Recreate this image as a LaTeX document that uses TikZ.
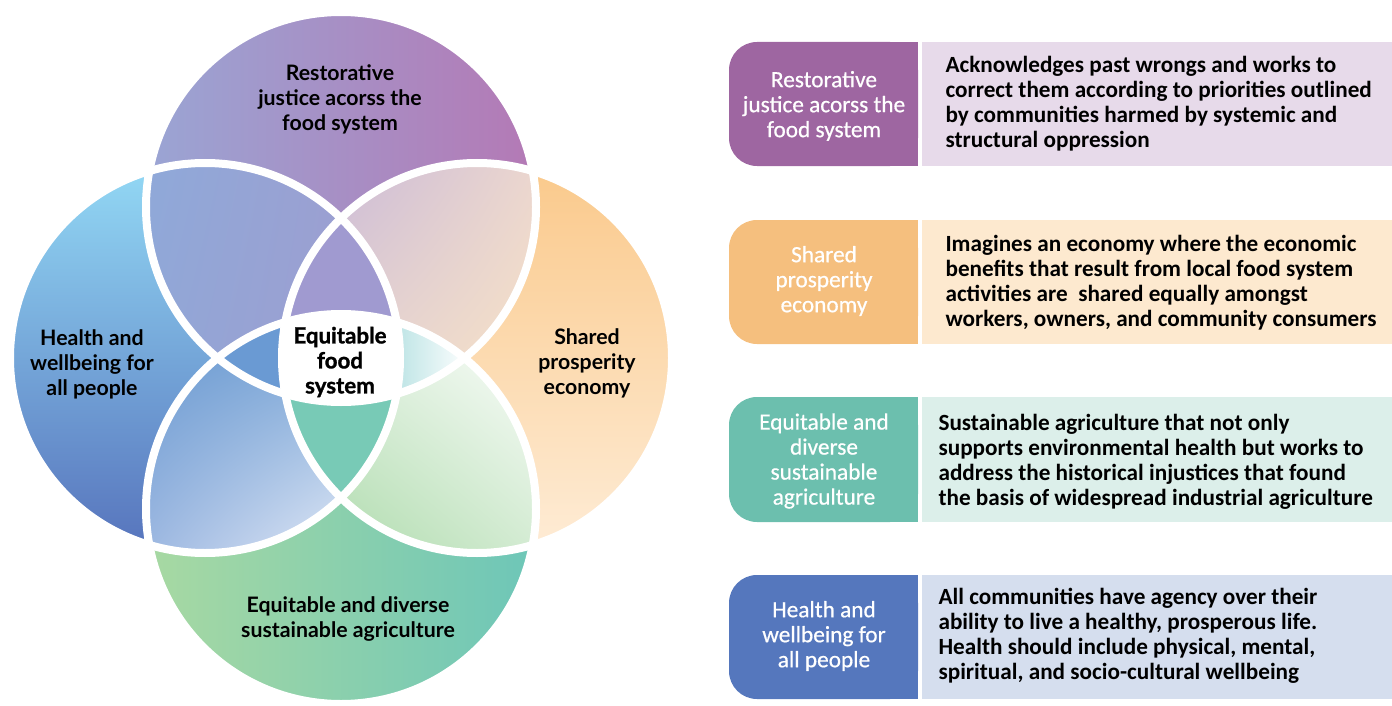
\documentclass[tikz,border=0pt]{standalone}
\usepackage{fontspec}
\usetikzlibrary{shadings}
\setmainfont{Lato}
\newfontfamily\vennfont{Lato}
\newfontfamily\centerfont[FakeBold=1.2]{Lato}
\newfontfamily\boxfont{Carlito}
\newfontfamily\boxfontW[FakeBold=0.6]{Carlito}
\definecolor{topA}{HTML}{9AA5D4}
\definecolor{topB}{HTML}{B479B5}
\definecolor{leftA}{HTML}{93D9F5}
\definecolor{leftB}{HTML}{5673BC}
\definecolor{rightA}{HTML}{FAC98B}
\definecolor{rightB}{HTML}{FEECD6}
\definecolor{botA}{HTML}{A8D9A2}
\definecolor{botB}{HTML}{6DC6B8}
\definecolor{tlA}{HTML}{8FA9D9}
\definecolor{tlB}{HTML}{9E9DCF}
\definecolor{tlC}{HTML}{92A6D6}
\definecolor{tlD}{HTML}{A09CCF}
\definecolor{trA}{HTML}{C3B4D9}
\definecolor{trB}{HTML}{EBD6CF}
\definecolor{trC}{HTML}{E6D4D3}
\definecolor{trD}{HTML}{F8E3C5}
\definecolor{blA}{HTML}{6496CF}
\definecolor{blB}{HTML}{77A4D6}
\definecolor{blC}{HTML}{9DB8E1}
\definecolor{blD}{HTML}{F4F6FC}
\definecolor{brA}{HTML}{DDEEDC}
\definecolor{brC}{HTML}{A6D8A4}
\definecolor{brD}{HTML}{D3EBD2}
\definecolor{tlr}{HTML}{A09AD0}
\definecolor{tlb}{HTML}{6A9AD3}
\definecolor{trb}{HTML}{B8E2E3}
\definecolor{blr}{HTML}{78CAB6}
\definecolor{pA}{HTML}{9E66A1}
\definecolor{pL}{HTML}{E7DAEA}
\definecolor{oA}{HTML}{F5BF7E}
\definecolor{oL}{HTML}{FDE9CF}
\definecolor{gA}{HTML}{6CBFAE}
\definecolor{gL}{HTML}{DCEFEA}
\definecolor{bA}{HTML}{5577BD}
\definecolor{bL}{HTML}{D5DEEE}
\tikzset{
  vennlab/.style={font=\vennfont\bfseries\fontsize{21.3}{25}\selectfont, align=center, text=black},
  centerlab/.style={font=\centerfont\bfseries\fontsize{22.3}{25}\selectfont, align=center, text=black},
  tablab/.style={font=\boxfontW\fontsize{23.3}{25}\selectfont, align=center, text=white},
  desc/.style={font=\boxfont\bfseries\fontsize{23.2}{25}\selectfont, align=left, text=black, anchor=west},
  ring/.style={draw=white, line width=8pt}
}
\begin{document}
\begin{tikzpicture}[x=1pt,y=-1pt]
\useasboundingbox (0,0) rectangle (1392,706);
\def\R{195pt}
\coordinate (T) at (341,207);
\coordinate (B) at (341,509);
\coordinate (L) at (205,358);
\coordinate (Rt) at (477,358);
% single circles
\shade[left color=topA, right color=topB] (T) circle[radius=\R];
\shade[top color=leftA, bottom color=leftB] (L) circle[radius=\R];
\shade[top color=rightA, bottom color=rightB] (Rt) circle[radius=\R];
\shade[left color=botA, right color=botB] (B) circle[radius=\R];
% pairs
\begin{scope}
\clip (T) circle[radius=\R]; \clip (L) circle[radius=\R];
\shade[upper left=tlA, upper right=tlB, lower left=tlC, lower right=tlD] (146,163) rectangle (400,402);
\end{scope}
\begin{scope}
\clip (T) circle[radius=\R]; \clip (Rt) circle[radius=\R];
\shade[upper left=trA, upper right=trB, lower left=trC, lower right=trD] (282,163) rectangle (536,402);
\end{scope}
\begin{scope}
\clip (B) circle[radius=\R]; \clip (L) circle[radius=\R];
\shade[upper left=blA, upper right=blB, lower left=blC, lower right=blD] (146,314) rectangle (400,553);
\end{scope}
\begin{scope}
\clip (B) circle[radius=\R]; \clip (Rt) circle[radius=\R];
\shade[upper left=brA, upper right=white, lower left=brC, lower right=brD] (282,314) rectangle (536,553);
\end{scope}
% triples
\begin{scope}
\clip (T) circle[radius=\R]; \clip (L) circle[radius=\R]; \clip (Rt) circle[radius=\R];
\fill[tlr] (270,210) rectangle (410,410);
\end{scope}
\begin{scope}
\clip (T) circle[radius=\R]; \clip (L) circle[radius=\R]; \clip (B) circle[radius=\R];
\fill[tlb] (200,290) rectangle (350,430);
\end{scope}
\begin{scope}
\clip (T) circle[radius=\R]; \clip (Rt) circle[radius=\R]; \clip (B) circle[radius=\R];
\shade[left color=trb, right color=white] (390,310) rectangle (470,405);
\end{scope}
\begin{scope}
\clip (B) circle[radius=\R]; \clip (L) circle[radius=\R]; \clip (Rt) circle[radius=\R];
\fill[blr] (270,300) rectangle (410,500);
\end{scope}
% quadruple
\begin{scope}
\clip (T) circle[radius=\R]; \clip (L) circle[radius=\R]; \clip (Rt) circle[radius=\R];
\clip (B) circle[radius=\R];
\fill[white] (250,250) rectangle (430,470);
\end{scope}
% white rings
\draw[ring] (T) circle[radius=\R];
\draw[ring] (L) circle[radius=\R];
\draw[ring] (Rt) circle[radius=\R];
\draw[ring] (B) circle[radius=\R];
% venn labels
\node[vennlab] (vt) at (340,99) {Restorative\\justice acorss the\\food system};
\node[vennlab] (vl) at (92,364) {Health and\\wellbeing for\\all people};
\node[vennlab] (vr) at (587,363) {Shared\\prosperity\\economy};
\node[vennlab] (vb) at (348,619) {Equitable and diverse\\sustainable agriculture};
\node[centerlab] (vc) at (340,362) {Equitable\\food\\system};
% table boxes
\fill[pA, rounded corners=28pt] (729,42) rectangle (918,166);
\fill[pA] (840,42) rectangle (918,166);
\fill[pL] (922,42) rectangle (1392,166);
\fill[oA, rounded corners=28pt] (729,220) rectangle (918,344);
\fill[oA] (840,220) rectangle (918,344);
\fill[oL] (922,220) rectangle (1392,344);
\fill[gA, rounded corners=28pt] (729,397) rectangle (918,522);
\fill[gA] (840,397) rectangle (918,522);
\fill[gL] (922,397) rectangle (1392,522);
\fill[bA, rounded corners=28pt] (729,575) rectangle (918,699);
\fill[bA] (840,575) rectangle (918,699);
\fill[bL] (922,575) rectangle (1392,699);
\node[tablab] (t1) at (824,106) {Restorative\\justice acorss the\\food system};
\node[tablab] (t2) at (824,281) {Shared\\prosperity\\economy};
\node[tablab] (t3) at (824,461) {Equitable and\\diverse\\sustainable\\agriculture};
\node[tablab] (t4) at (824,636) {Health and\\wellbeing for\\all people};
\node[desc] (d1) at (942,104) {Acknowledges past wrongs and works to\\correct them according to priorities outlined\\by communities harmed by systemic and\\structural oppression};
\node[desc] (d2) at (942,283) {Imagines an economy where the economic\\benefits that result from local food system\\activities are\ \ shared equally amongst\\workers, owners, and community consumers};
\node[desc] (d3) at (935,462) {Sustainable agriculture that not only\\supports environmental health but works to\\address the historical injustices that found\\the basis of widespread industrial agriculture};
\node[desc] (d4) at (935,636) {All communities have agency over their\\ability to live a healthy, prosperous life.\\Health should include physical, mental,\\spiritual, and socio-cultural wellbeing};
\end{tikzpicture}
\end{document}
